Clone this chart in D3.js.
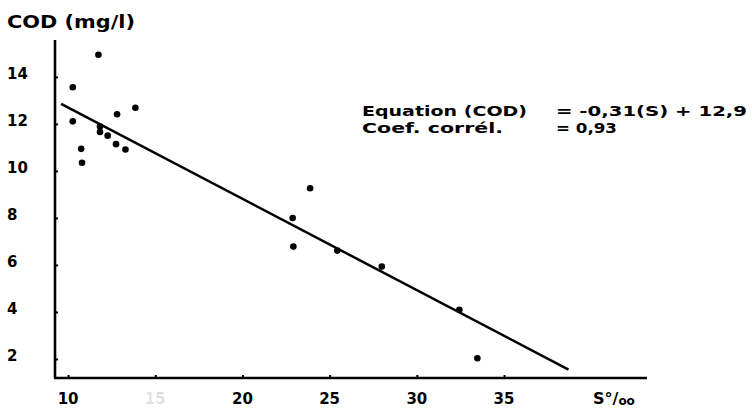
<!DOCTYPE html>
<html><head><meta charset="utf-8">
<script src="https://cdn.jsdelivr.net/npm/d3@7"></script>
<style>body{margin:0;background:#fff}svg{display:block}text{font-family:"DejaVu Sans",sans-serif;font-weight:bold;fill:#000}</style>
</head><body><svg id="c" width="752" height="411"></svg>
<script>
const salinity = [11.74,10.27,10.27,10.75,10.80,11.83,11.83,12.27,12.81,12.75,13.29,13.86,23.88,22.88,22.92,25.44,27.99,32.44,33.47];
const cod      = [14.94,13.56,12.11,10.94,10.35,11.89,11.66,11.50,12.41,11.14,10.91,12.69,9.26,8.00,6.78,6.61,5.93,4.09,2.03];
const fitX = [9.6, 38.7];
const fitY = [12.85, 1.55];
const xTicks = [10,15,20,25,30,35];
const yTicks = [2,4,6,8,10,12,14];

const svg = d3.select("#c");
const x = d3.scaleLinear().domain([9.25,43.2]).range([55,647]);
const y = d3.scaleLinear().domain([1.19,15.57]).range([378,40]);

// axes
const yAxis = d3.axisRight(y).tickValues(yTicks).tickSize(3).tickFormat("");
const gy = svg.append("g").attr("transform",`translate(${x(9.25)},0)`).call(yAxis);
gy.select(".domain").attr("stroke","#000").attr("stroke-width",2.6).attr("d",`M0,${y(15.57)}V${y(1.19)}`);
gy.selectAll(".tick line").attr("stroke","#000").attr("stroke-width",2);

const xAxis = d3.axisTop(x).tickValues(xTicks).tickSize(3).tickFormat("");
const gx = svg.append("g").attr("transform",`translate(0,${y(1.19)})`).call(xAxis);
gx.select(".domain").attr("stroke","#000").attr("stroke-width",2.6).attr("d",`M${x(9.25)-1},0H${x(43.2)}`);
gx.selectAll(".tick line").attr("stroke","#000").attr("stroke-width",2);

// tick labels
svg.append("g").selectAll("text").data(yTicks).join("text")
  .attr("x",7).attr("y",d=>y(d)+2).attr("font-size",15).text(d=>d);
svg.append("g").selectAll("text").data(xTicks).join("text")
  .attr("x",d=>x(d)).attr("y",404).attr("text-anchor","middle").attr("font-size",15)
  .attr("fill-opacity",d=>d===15?0.12:1).text(d=>d);

// titles
svg.append("text").attr("x",7).attr("y",28).attr("font-size",18).attr("textLength",128).attr("lengthAdjust","spacingAndGlyphs").text("COD (mg/l)");
const st = svg.append("text").attr("x",593).attr("y",404).attr("font-size",16);
st.append("tspan").text("S°/");
st.append("tspan").attr("font-size",12).attr("dy",1).text("oo");

// regression line
svg.append("line").attr("x1",x(fitX[0])).attr("y1",y(fitY[0])).attr("x2",x(fitX[1])).attr("y2",y(fitY[1]))
  .attr("stroke","#000").attr("stroke-width",2.5);

// points
svg.append("g").selectAll("circle").data(salinity.map((s,i)=>[s,cod[i]])).join("circle")
  .attr("cx",d=>x(d[0])).attr("cy",d=>y(d[1])).attr("r",3.3).attr("fill","#000");

// equation text
const eq = [
  {t:"Equation (COD)", x:362, y:116, w:165},
  {t:"= -0,31(S) + 12,9", x:556, y:116, w:191},
  {t:"Coef. corrél.", x:362, y:133, w:141},
  {t:"= 0,93", x:556, y:133, w:61}
];
svg.append("g").selectAll("text").data(eq).join("text")
  .attr("x",d=>d.x).attr("y",d=>d.y).attr("font-size",14)
  .attr("textLength",d=>d.w).attr("lengthAdjust","spacingAndGlyphs").text(d=>d.t);
</script></body></html>
